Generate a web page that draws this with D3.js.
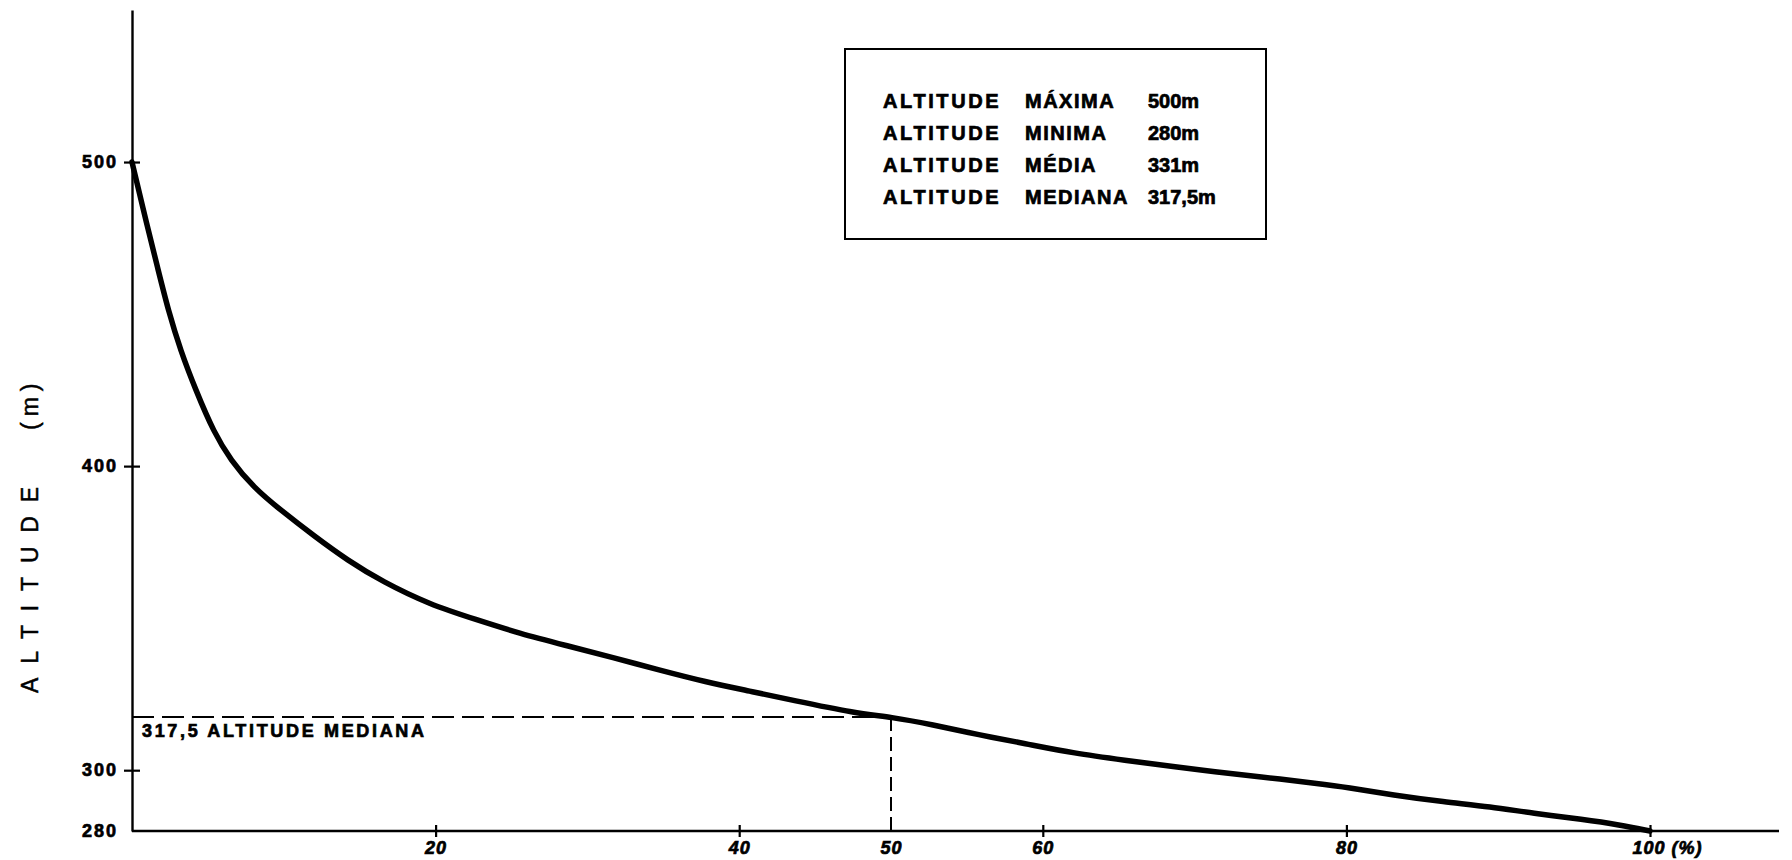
<!DOCTYPE html>
<html lang="pt">
<head>
    <meta charset="UTF-8">
    <title>Curva hipsométrica</title>
    <script src="https://d3js.org/d3.v7.min.js"></script>
    <style>
        body { margin: 0; background: #fff; }
        svg { display: block; }
        .lbl {
            font-family: "Liberation Sans", Arial, sans-serif;
            font-weight: bold;
            fill: #000;
            stroke: #000;
            stroke-width: 0.7px;
        }
    </style>
</head>
<body>
<svg width="1792" height="860"></svg>
<script>
    // curve: % of area above each altitude
    const percent = [0, 1, 1.7, 2.4, 3.2, 4.2, 5.4, 6.5, 8, 9.8, 12, 14.2, 16.5, 19.6, 22.7, 25.5, 28.6,
        31.7, 34.7, 37.8, 40.7, 43.5, 47.7, 50, 52.7, 55.8, 58.8, 62.1, 65.4, 68.7, 71.3, 74.2, 78.3,
        80, 83.1, 86.4, 89.5, 92.3, 95.6, 98, 100];
    const altitude = [500, 479, 465, 451, 438, 425, 411, 402, 393, 385.5, 377, 369, 362, 354.5, 349.5, 345, 341,
        337, 333, 329, 326, 323, 318.7, 317.5, 315, 311.6, 308.8, 305.5, 303.3, 301.1, 299.5, 297.9, 295.5,
        294.4, 291.8, 289.6, 288, 285.8, 283.8, 282, 280];

    const xTicks = [20, 40, 50, 60, 80, 100];
    const yTicks = [280, 300, 400, 500];

    const medianAlt = 317.5;
    const medianPct = 50;

    const legendWords = ["MÁXIMA", "MINIMA", "MÉDIA", "MEDIANA"];
    const legendValues = ["500m", "280m", "331m", "317,5m"];

    const svg = d3.select("svg");

    const x = d3.scaleLinear().domain([0, 100]).range([132, 1650]);
    const y = d3.scaleLinear().domain([280, 550]).range([831, 10]);
    const x0 = x(0), yBase = y(280);

    // y axis
    const yAxis = svg.append("g")
        .attr("transform", `translate(${x0},0)`)
        .call(d3.axisLeft(y).tickValues(yTicks).tickSize(0).tickPadding(14));
    yAxis.select(".domain").attr("stroke", "#000").attr("stroke-width", 2.4);
    yAxis.selectAll(".tick line")
        .attr("x1", -8).attr("x2", 8)
        .attr("stroke", "#000").attr("stroke-width", 2.2)
        .filter(d => d === 280).remove();
    yAxis.selectAll(".tick text")
        .attr("class", "lbl")
        .style("font-size", "18px")
        .style("letter-spacing", "2px");

    // x axis (line runs past 100%)
    const xAxis = svg.append("g")
        .attr("transform", `translate(0,${yBase})`)
        .call(d3.axisBottom(x).tickValues(xTicks).tickSize(0).tickPadding(10)
            .tickFormat(d => d === 100 ? "100 (%)" : d));
    xAxis.select(".domain").remove();
    xAxis.append("line")
        .attr("x1", x0).attr("x2", 1779)
        .attr("stroke", "#000").attr("stroke-width", 2.4);
    xAxis.selectAll(".tick line")
        .attr("y1", -6).attr("y2", 6)
        .attr("stroke", "#000").attr("stroke-width", 2.2)
        .filter(d => d === 50).remove();
    xAxis.selectAll(".tick text")
        .attr("class", "lbl")
        .style("font-size", "18px")
        .style("font-style", "italic")
        .style("letter-spacing", "1px");
    xAxis.selectAll(".tick text").filter(d => d === 100)
        .attr("text-anchor", "start").attr("x", -18);

    // median guide lines
    svg.append("line")
        .attr("x1", x0).attr("x2", x(medianPct))
        .attr("y1", y(medianAlt)).attr("y2", y(medianAlt))
        .attr("stroke", "#000").attr("stroke-width", 2)
        .attr("stroke-dasharray", "22,8");
    svg.append("line")
        .attr("x1", x(medianPct)).attr("x2", x(medianPct))
        .attr("y1", y(medianAlt)).attr("y2", yBase)
        .attr("stroke", "#000").attr("stroke-width", 2)
        .attr("stroke-dasharray", "14,6");
    svg.append("text")
        .attr("class", "lbl")
        .attr("x", x0 + 10).attr("y", y(medianAlt) + 20)
        .attr("textLength", 282).attr("lengthAdjust", "spacing")
        .style("font-size", "18px")
        .text("317,5 ALTITUDE MEDIANA");

    // the curve
    const line = d3.line()
        .x((d, i) => x(percent[i]))
        .y(d => y(d))
        .curve(d3.curveBasis);
    svg.append("path")
        .datum(altitude)
        .attr("d", line)
        .attr("fill", "none")
        .attr("stroke", "#000")
        .attr("stroke-width", 5.5)
        .attr("stroke-linejoin", "round")
        .attr("stroke-linecap", "round");

    // y axis title
    const titleX = 38;
    svg.append("text")
        .attr("transform", `translate(${titleX},693) rotate(-90)`)
        .style("font-family", "'Liberation Sans', Arial, sans-serif")
        .style("font-size", "23px")
        .style("stroke", "#000").style("stroke-width", "0.5px")
        .style("letter-spacing", "13.8px")
        .text("ALTITUDE");
    svg.append("text")
        .attr("transform", `translate(${titleX},430) rotate(-90)`)
        .style("font-family", "'Liberation Sans', Arial, sans-serif")
        .style("font-size", "23px")
        .style("stroke", "#000").style("stroke-width", "0.5px")
        .style("letter-spacing", "6px")
        .text("(m)");

    // summary box
    const box = svg.append("g").attr("transform", "translate(845,49)");
    box.append("rect")
        .attr("width", 421).attr("height", 190)
        .attr("fill", "none").attr("stroke", "#000").attr("stroke-width", 2);
    const rows = box.selectAll("g.row")
        .data(legendWords)
        .join("g")
        .attr("class", "row")
        .attr("transform", (d, i) => `translate(0,${59 + i * 32})`);
    rows.append("text").attr("class", "lbl").attr("x", 38)
        .style("font-size", "20px").style("letter-spacing", "2.6px")
        .text("ALTITUDE");
    rows.append("text").attr("class", "lbl").attr("x", 180)
        .style("font-size", "20px").style("letter-spacing", "1.5px")
        .text(d => d);
    rows.append("text").attr("class", "lbl").attr("x", 303)
        .style("font-size", "20px")
        .text((d, i) => legendValues[i]);
</script>
</body>
</html>
